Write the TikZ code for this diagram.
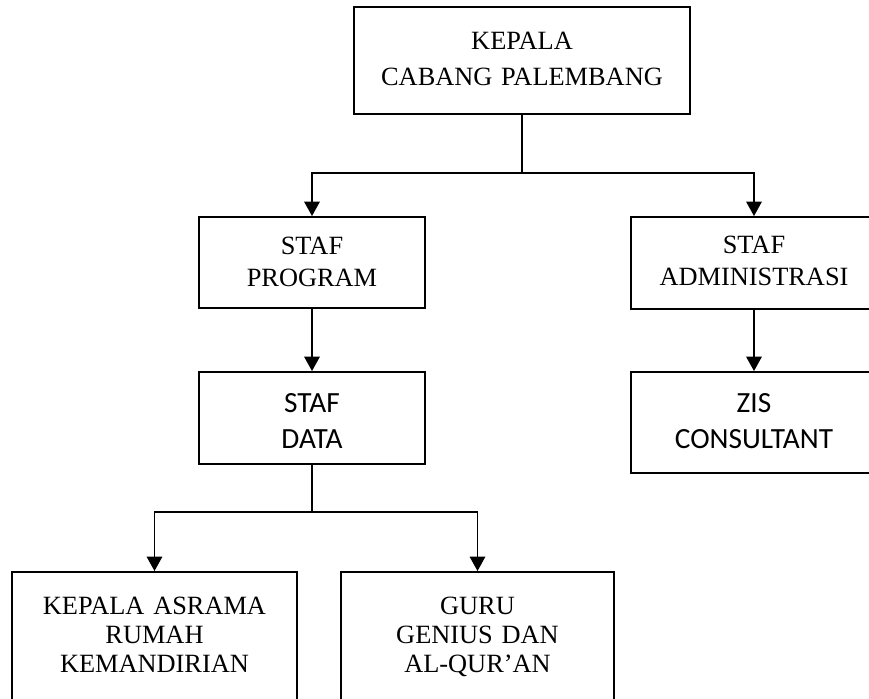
\documentclass[tikz,border=0pt]{standalone}
\usepackage{fontspec}
\setmainfont{Liberation Serif}
\newfontfamily\calibrifont{Carlito}
\usetikzlibrary{arrows.meta}

\tikzset{
  orgbox/.style={draw, line width=1.6pt, inner sep=0pt, align=center},
  serifbox/.style={font=\fontsize{22.5}{#1}\selectfont},
  sansbox/.style={font=\calibrifont\fontsize{25}{#1}\selectfont}
}

\begin{document}
\begin{tikzpicture}
\useasboundingbox (0,0) rectangle (26.07,20.97);
\clip (0,0) rectangle (26.07,20.97);

\begin{scope}[every node/.style={orgbox}]
    \node[serifbox=29.9pt, text width=10.08cm, text height=1.29cm, text depth=1.92cm]
        (kepala) at (15.66,19.155) {KEPALA\\CABANG PALEMBANG};
    \node[serifbox=26.5pt, text width=6.78cm, text height=1.14cm, text depth=1.59cm]
        (program) at (9.36,13.095) {STAF\\PROGRAM};
    \node[sansbox=29.9pt, text width=6.78cm, text height=1.23cm, text depth=1.53cm]
        (data) at (9.36,8.43) {STAF\\DATA};
    \node[serifbox=26.5pt, text width=7.38cm, text height=1.11cm, text depth=1.65cm]
        (admin) at (22.62,13.08) {STAF\\ADMINISTRASI};
    \node[sansbox=29.9pt, text width=7.38cm, text height=1.23cm, text depth=1.80cm]
        (zis) at (22.62,8.295) {ZIS\\CONSULTANT};
    \node[serifbox=24.5pt, text width=8.55cm, text height=1.29cm, text depth=3.60cm]
        (asrama) at (4.635,1.365) {KEPALA ASRAMA\\RUMAH\\KEMANDIRIAN};
    \node[serifbox=24.5pt, text width=8.19cm, text height=1.29cm, text depth=3.60cm]
        (guru) at (14.325,1.365) {GURU\\GENIUS DAN\\AL-QUR'AN};
\end{scope}

% corners of the two bars
\coordinate (bus1) at (15.66,15.78);
\coordinate (progtop) at (program.north |- bus1);
\coordinate (admtop) at (admin.north |- bus1);
\coordinate (bus2) at (9.36,5.61);
\coordinate (asrtop) at (asrama.north |- bus2);
\coordinate (gurtop) at (guru.north |- bus2);

\begin{scope}[>={Triangle[width=0.46cm,length=0.43cm]},
              every edge/.style={draw=black, line width=1.6pt, line cap=rect}]
    \path (kepala) edge (bus1);
    \path (progtop) edge (admtop);
    \path [->] (progtop) edge (program);
    \path [->] (admtop) edge (admin);
    \path [->] (program) edge (data);
    \path [->] (admin) edge (zis);
    \path (data) edge (bus2);
    \path (asrtop) edge (gurtop);
    \path [->] (asrtop) edge (asrama);
    \path [->] (gurtop) edge (guru);
\end{scope}
\end{tikzpicture}
\end{document}
